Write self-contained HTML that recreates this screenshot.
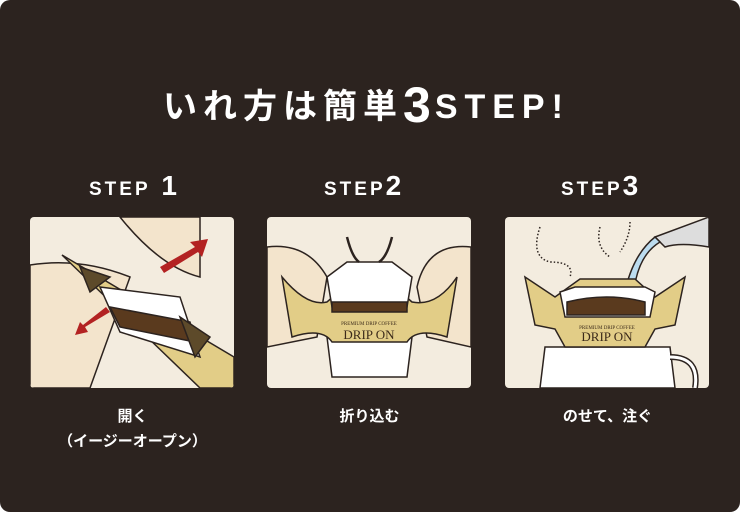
<!DOCTYPE html>
<html><head><meta charset="utf-8"><style>
html,body{margin:0;padding:0;background:#fff;}
#w{position:relative;width:740px;height:512px;background:#2c231f;border-radius:10px;overflow:hidden;font-family:"Liberation Sans","Noto Sans CJK JP",sans-serif;color:#fff;}
.t{position:absolute;white-space:nowrap;font-weight:bold;}
.p{position:absolute;top:217px;width:204px;height:171px;background:#f3ecdf;border-radius:4px;overflow:hidden;}
.c{position:absolute;width:205px;text-align:center;font-size:15px;font-weight:bold;}
</style></head><body><div id="w">
<div class="t" style="left:163px;top:72px;font-size:34px;letter-spacing:6px;">いれ方は簡単<span style="font-size:50px;position:relative;top:4px;letter-spacing:4px;">3</span><span style="letter-spacing:7px;">STEP!</span></div>
<div class="t" style="left:89px;top:170px;font-size:19px;letter-spacing:3px;">STEP<span style="font-size:28px;"> 1</span></div>
<div class="t" style="left:324px;top:170px;font-size:19px;letter-spacing:3px;">STEP<span style="font-size:28px;">2</span></div>
<div class="t" style="left:561px;top:170px;font-size:19px;letter-spacing:3px;">STEP<span style="font-size:28px;">3</span></div>

<div class="p" style="left:30px;"><svg width="204" height="171" stroke="#2c231f" stroke-width="1.5">
<path d="M0 48 Q50 40 100 60 L60 171 L0 171Z" fill="#f3e4cc"/>
<path d="M90 0 Q130 50 170 60 L170 0Z" fill="#f3e4cc"/>
<path d="M32 38 L204 140 L204 171 L170 171 Z" fill="#e2cd87"/>
<path d="M70 70 L150 80 L170 140 L90 115Z" fill="#fff"/>
<path d="M80 90 L160 105 L165 125 L90 110Z" fill="#5a3a1e"/>
<path d="M50 50 L60 75 L80 60Z M150 100 L180 120 L165 140Z" fill="#5d4a2a"/>
<path d="M130 50 L165 30 L160 25 L178 22 L172 40 L168 35 L134 56Z" fill="#b32222" stroke="none"/>
<path d="M80 95 L55 110 L58 115 L45 118 L50 105 L53 108 L76 90Z" fill="#b32222" stroke="none"/>
</svg></div>
<div class="p" style="left:267px;"><svg width="204" height="171" stroke="#2c231f" stroke-width="1.5">
<path d="M0 30 Q40 25 60 60 L50 120 L0 130Z" fill="#f3e4cc"/>
<path d="M204 30 Q160 25 150 70 L160 120 L204 130Z" fill="#f3e4cc"/>
<path d="M60 120 L145 120 L140 160 L65 160Z" fill="#fff"/>
<path d="M15 60 Q40 90 60 85 L75 72 L130 72 L145 85 Q170 90 190 60 L180 120 Q150 110 140 125 L65 125 Q55 110 25 120Z" fill="#e2cd87"/>
<path d="M60 60 L80 45 L125 45 L145 60 L140 90 L65 90Z" fill="#fff"/>
<path d="M65 85 L140 85 L140 95 L65 95Z" fill="#5a3a1e"/>
<path d="M80 20 Q85 40 92 45 M125 20 Q120 40 112 45" fill="none" stroke-width="2.5"/>
<text x="102" y="108" font-size="5" fill="#3b2a1a" stroke="none" text-anchor="middle" font-family="Liberation Serif,serif">PREMIUM DRIP COFFEE</text>
<text x="102" y="122" font-size="13" fill="#3b2a1a" stroke="none" text-anchor="middle" font-family="Liberation Serif,serif">DRIP ON</text>
</svg></div>
<div class="p" style="left:505px;"><svg width="204" height="171" stroke="#2c231f" stroke-width="1.5">
<path d="M40 130 L165 130 L170 171 L35 171Z" fill="#fff"/>
<path d="M165 140 Q195 140 190 171" fill="none" stroke-width="6"/>
<path d="M165 140 Q195 140 190 171" fill="none" stroke="#fff" stroke-width="3"/>
<path d="M150 20 L204 0 L204 30 Q175 25 160 30Z" fill="#ddd"/>
<path d="M155 25 Q130 40 128 85 L118 85 Q125 40 150 20Z" fill="#bcdcef"/>
<path d="M20 60 L50 80 L75 62 L130 62 L150 80 L180 60 L170 108 L150 112 L140 130 L60 130 L50 112 L30 108Z" fill="#e2cd87"/>
<path d="M55 75 L70 70 L140 70 L150 75 L145 100 L60 100Z" fill="#fff"/>
<path d="M62 85 Q102 75 140 85 L140 98 L62 98Z" fill="#5a3a1e"/>
<path d="M35 10 Q25 40 45 45 Q70 45 65 60 M95 10 Q90 30 105 40 M125 5 Q125 20 115 35" fill="none" stroke-dasharray="1.5 2"/>
<text x="102" y="112" font-size="5" fill="#3b2a1a" stroke="none" text-anchor="middle" font-family="Liberation Serif,serif">PREMIUM DRIP COFFEE</text>
<text x="102" y="124" font-size="13" fill="#3b2a1a" stroke="none" text-anchor="middle" font-family="Liberation Serif,serif">DRIP ON</text>
</svg></div>

<div class="c" style="left:30px;top:405px;">開く</div>
<div class="c" style="left:30px;top:430px;">（イージーオープン）</div>
<div class="c" style="left:267px;top:405px;">折り込む</div>
<div class="c" style="left:505px;top:405px;">のせて、注ぐ</div>
</div></body></html>
